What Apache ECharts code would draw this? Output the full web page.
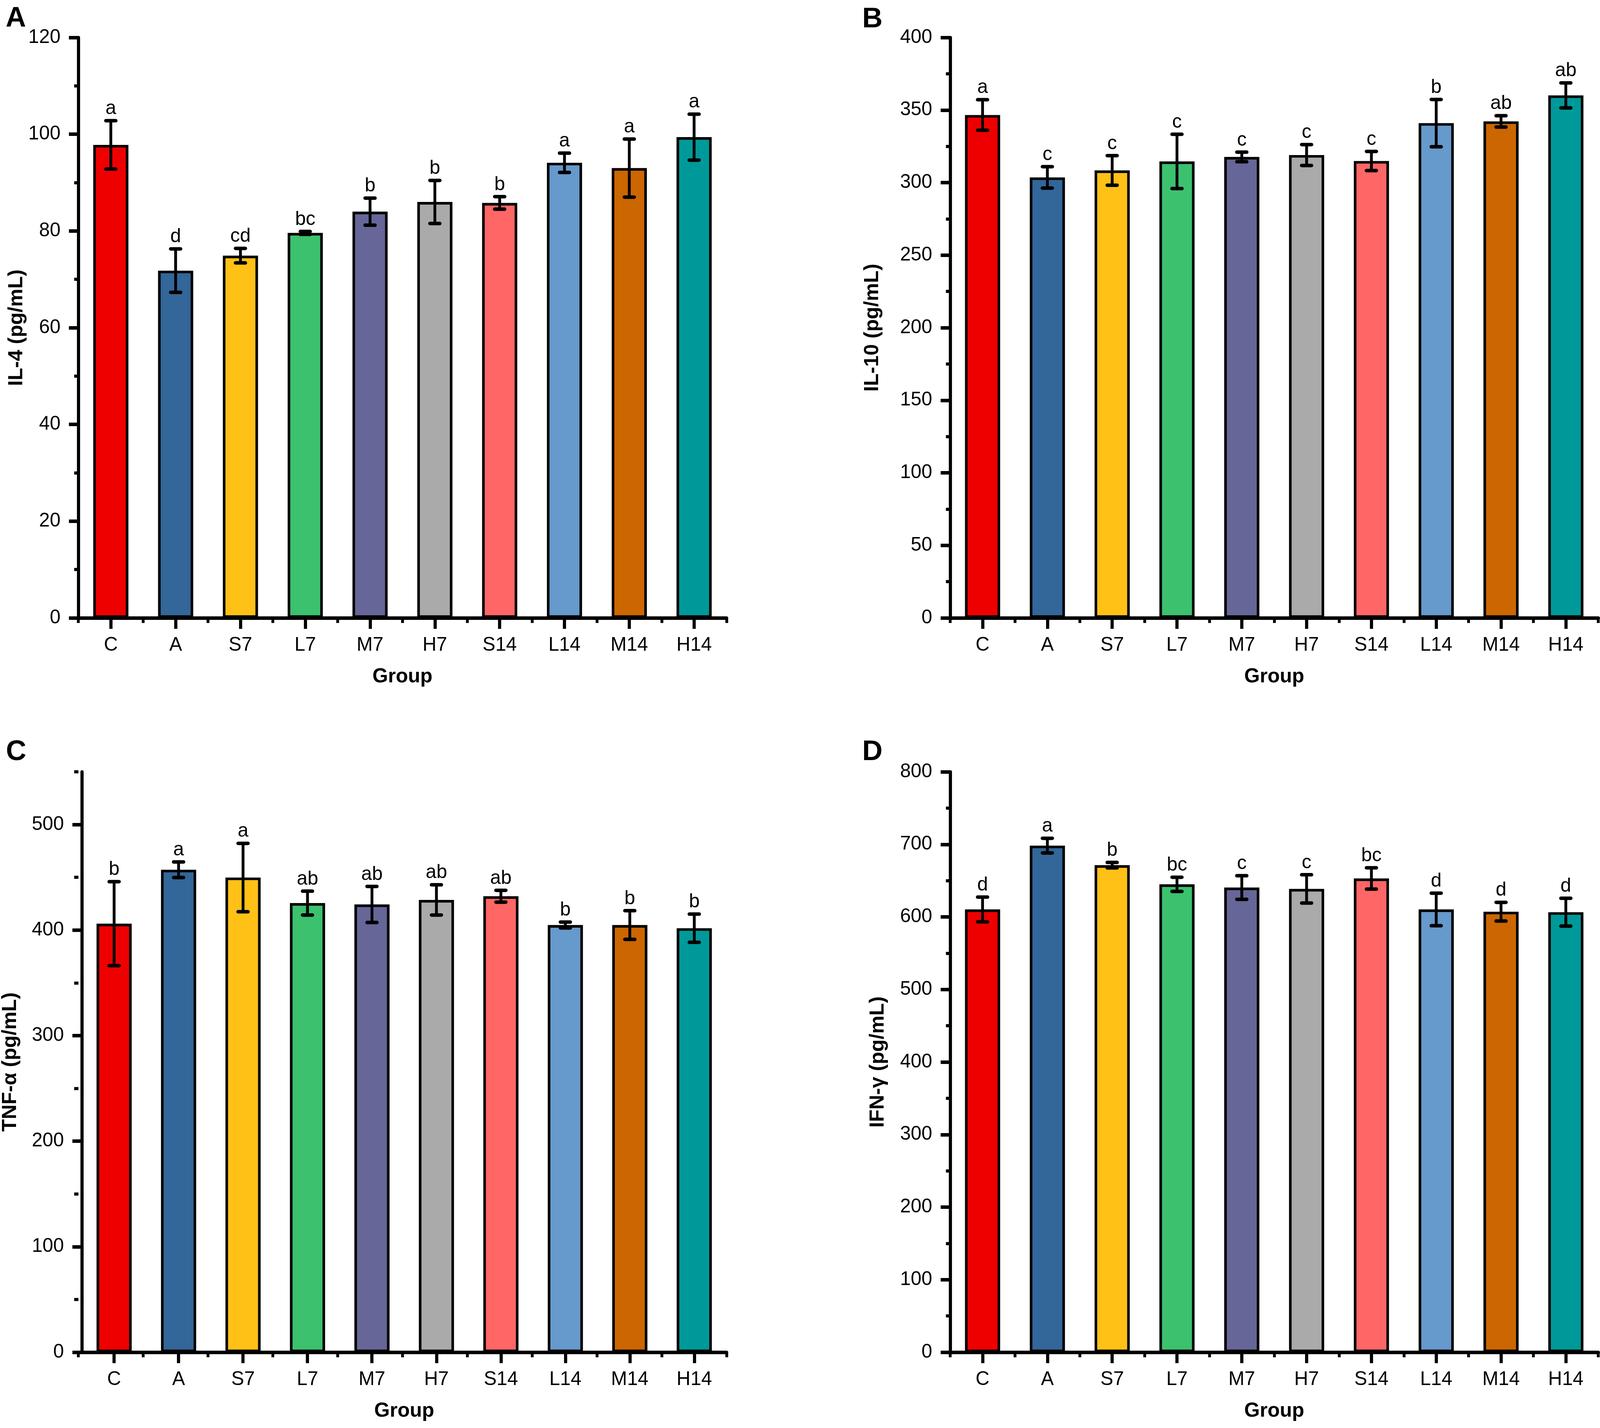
<!DOCTYPE html>
<html>
<head>
<meta charset="utf-8">
<script src="https://cdn.jsdelivr.net/npm/echarts@6/dist/echarts.min.js"></script>
<style>html,body{margin:0;padding:0;background:#fff;overflow:hidden}#c{width:100vw;height:100vh}</style>
</head>
<body>
<div id="c"></div>
<script>
const categories = ['C','A','S7','L7','M7','H7','S14','L14','M14','H14'];
const barColors = ['#EF0000','#336699','#FFC116','#3CC16E','#666699','#AAAAAA','#FF6666','#6699CC','#CC6600','#009999'];

const il4Mean = [97.8, 71.8, 74.9, 79.6, 84.0, 86.0, 85.8, 94.1, 93.0, 99.4];
const il4Sd   = [5.0, 4.5, 1.5, 0.3, 2.8, 4.45, 1.3, 2.0, 6.0, 4.75];
const il4Letters = ['a','d','cd','bc','b','b','b','a','a','a'];

const il10Mean = [346.6, 303.6, 308.4, 314.6, 317.7, 319.0, 314.9, 341.0, 342.2, 360.1];
const il10Sd   = [10.5, 7.4, 10.2, 18.7, 3.3, 7.2, 6.6, 16.3, 3.9, 8.6];
const il10Letters = ['a','c','c','c','c','c','c','b','ab','ab'];

const tnfMean = [406.1, 457.2, 449.8, 425.6, 424.3, 428.6, 432.1, 404.8, 404.8, 401.8];
const tnfSd   = [39.8, 7.4, 32.4, 11.3, 17.1, 14.3, 5.6, 2.8, 13.6, 13.4];
const tnfLetters = ['b','a','a','ab','ab','ab','ab','b','b','b'];

const ifnMean = [610.3, 698.3, 671.3, 644.9, 640.5, 638.6, 653.0, 610.3, 607.2, 606.5];
const ifnSd   = [17.0, 10.1, 3.8, 9.8, 16.3, 19.5, 14.7, 22.4, 12.9, 19.2];
const ifnLetters = ['d','a','b','bc','c','c','bc','d','d','d'];

const il4Ticks = [0, 20, 40, 60, 80, 100, 120];
const il10Ticks = [0, 50, 100, 150, 200, 250, 300, 350, 400];
const tnfTicks = [0, 100, 200, 300, 400, 500];
const ifnTicks = [0, 100, 200, 300, 400, 500, 600, 700, 800];

const FONT = "'Liberation Sans', Arial, Helvetica, sans-serif";

const el = document.getElementById('c');
const sx = (el.clientWidth || window.innerWidth) / 4550;
const sy = (el.clientHeight || window.innerHeight) / 3656;
const sf = Math.sqrt(sx * sy);
const X = v => v * sx, Y = v => v * sy, F = v => v * sf;

const panels = [
  {label:'A', yName:'IL-4 (pg/mL)', mean:il4Mean, sd:il4Sd, letters:il4Letters, ticks:il4Ticks, max:120, minor:10, left:223, top:96, nameGap:133, lx:16, ly:48},
  {label:'B', yName:'IL-10 (pg/mL)', mean:il10Mean, sd:il10Sd, letters:il10Letters, ticks:il10Ticks, max:400, minor:25, left:2702, top:96, nameGap:192, lx:2452, ly:50},
  {label:'C', yName:'TNF-α (pg/mL)', mean:tnfMean, sd:tnfSd, letters:tnfLetters, ticks:tnfTicks, max:550, minor:50, left:223, top:1976, nameGap:174, lx:17, ly:1926},
  {label:'D', yName:'IFN-γ (pg/mL)', mean:ifnMean, sd:ifnSd, letters:ifnLetters, ticks:ifnTicks, max:800, minor:50, left:2702, top:1976, nameGap:176, lx:2452, ly:1926}
];

const GW = 1843, GH = 1486;
const grid = [], xAxis = [], yAxis = [], series = [], graphic = [];

panels.forEach((p, k) => {
  const gMain = grid.length;
  grid.push({left:X(p.left), top:Y(p.top), width:X(GW), height:Y(GH), containLabel:false});
  const gOver = grid.length;
  grid.push({left:X(p.left), top:Y(p.top), width:X(GW), height:Y(GH), containLabel:false});
  const step = p.ticks[1] - p.ticks[0];

  const xMain = xAxis.length;
  xAxis.push({
    type:'category', gridIndex:gMain, data:categories, boundaryGap:true,
    axisLine:{show:true, onZero:false, lineStyle:{color:'#000', width:Y(9)}},
    axisTick:{show:true, alignWithLabel:true, length:Y(28), lineStyle:{color:'#000', width:X(9)}},
    axisLabel:{show:true, margin:Y(46), fontSize:F(52), fontFamily:FONT, color:'#000'},
    splitLine:{show:false},
    name:'Group', nameLocation:'middle', nameGap:Y(125),
    nameTextStyle:{fontSize:F(54), fontWeight:'bold', fontFamily:FONT, color:'#000'}
  });
  xAxis.push({
    type:'category', gridIndex:gOver, data:categories, boundaryGap:true,
    axisLine:{show:false, onZero:false},
    axisTick:{show:true, alignWithLabel:false, length:Y(13), lineStyle:{color:'#000', width:X(8)}},
    axisLabel:{show:false}, splitLine:{show:false}
  });
  const yMain = yAxis.length;
  yAxis.push({
    type:'value', gridIndex:gMain, min:0, max:p.max, interval:step,
    axisLine:{show:true, onZero:false, lineStyle:{color:'#000', width:X(9)}},
    axisTick:{show:true, length:X(27), lineStyle:{color:'#000', width:Y(9)}, customValues:p.ticks},
    axisLabel:{show:true, margin:X(51), fontSize:F(52), fontFamily:FONT, color:'#000', customValues:p.ticks,
      formatter: v => (v > p.ticks[p.ticks.length-1] ? '' : String(v))},
    splitLine:{show:false},
    name:p.yName, nameLocation:'middle', nameGap:X(p.nameGap), nameRotate:90,
    nameTextStyle:{fontSize:F(55), fontWeight:'bold', fontFamily:FONT, color:'#000'}
  });
  yAxis.push({
    type:'value', gridIndex:gOver, min:0, max:p.max, interval:p.minor,
    axisLine:{show:false, onZero:false},
    axisTick:{show:true, length:X(12), lineStyle:{color:'#000', width:Y(8)}},
    axisLabel:{show:false}, splitLine:{show:false}
  });

  series.push({
    type:'bar', xAxisIndex:xMain, yAxisIndex:yMain, barWidth:X(100),
    data:p.mean.map((v,i) => ({value:v, itemStyle:{color:barColors[i]}})),
    itemStyle:{borderColor:'#000', borderWidth:F(7)},
    z:2
  });
  const letters = p.letters;
  series.push({
    type:'custom', xAxisIndex:xMain, yAxisIndex:yMain, z:3,
    data:p.mean.map((v,i) => [i, v, p.sd[i]]),
    renderItem:function(params, api){
      const i = params.dataIndex;
      const m = api.value(1), sd = api.value(2);
      const t = api.coord([i, m + sd]);
      const b = api.coord([i, m - sd]);
      const x = t[0];
      return {type:'group', children:[
        {type:'line', shape:{x1:x, y1:t[1], x2:x, y2:b[1]}, style:{stroke:'#000', lineWidth:X(8)}},
        {type:'line', shape:{x1:x-X(14), y1:t[1], x2:x+X(14), y2:t[1]}, style:{stroke:'#000', lineWidth:Y(9), lineCap:'round'}},
        {type:'line', shape:{x1:x-X(14), y1:b[1], x2:x+X(14), y2:b[1]}, style:{stroke:'#000', lineWidth:Y(9), lineCap:'round'}},
        {type:'text', x:x, y:t[1]-Y(6), style:{text:letters[i], fontSize:F(52), fontFamily:FONT, fill:'#000', align:'center', verticalAlign:'bottom'}}
      ]};
    }
  });

  graphic.push({type:'text', x:X(p.lx), y:Y(p.ly), style:{text:p.label, fontSize:F(76), fontWeight:'bold', fontFamily:FONT, fill:'#000', align:'left', verticalAlign:'middle'}});
});

const chart = echarts.init(el, null, {renderer:'canvas'});
chart.setOption({
  animation:false,
  backgroundColor:'#fff',
  grid, xAxis, yAxis, series, graphic
});
</script>
</body>
</html>
